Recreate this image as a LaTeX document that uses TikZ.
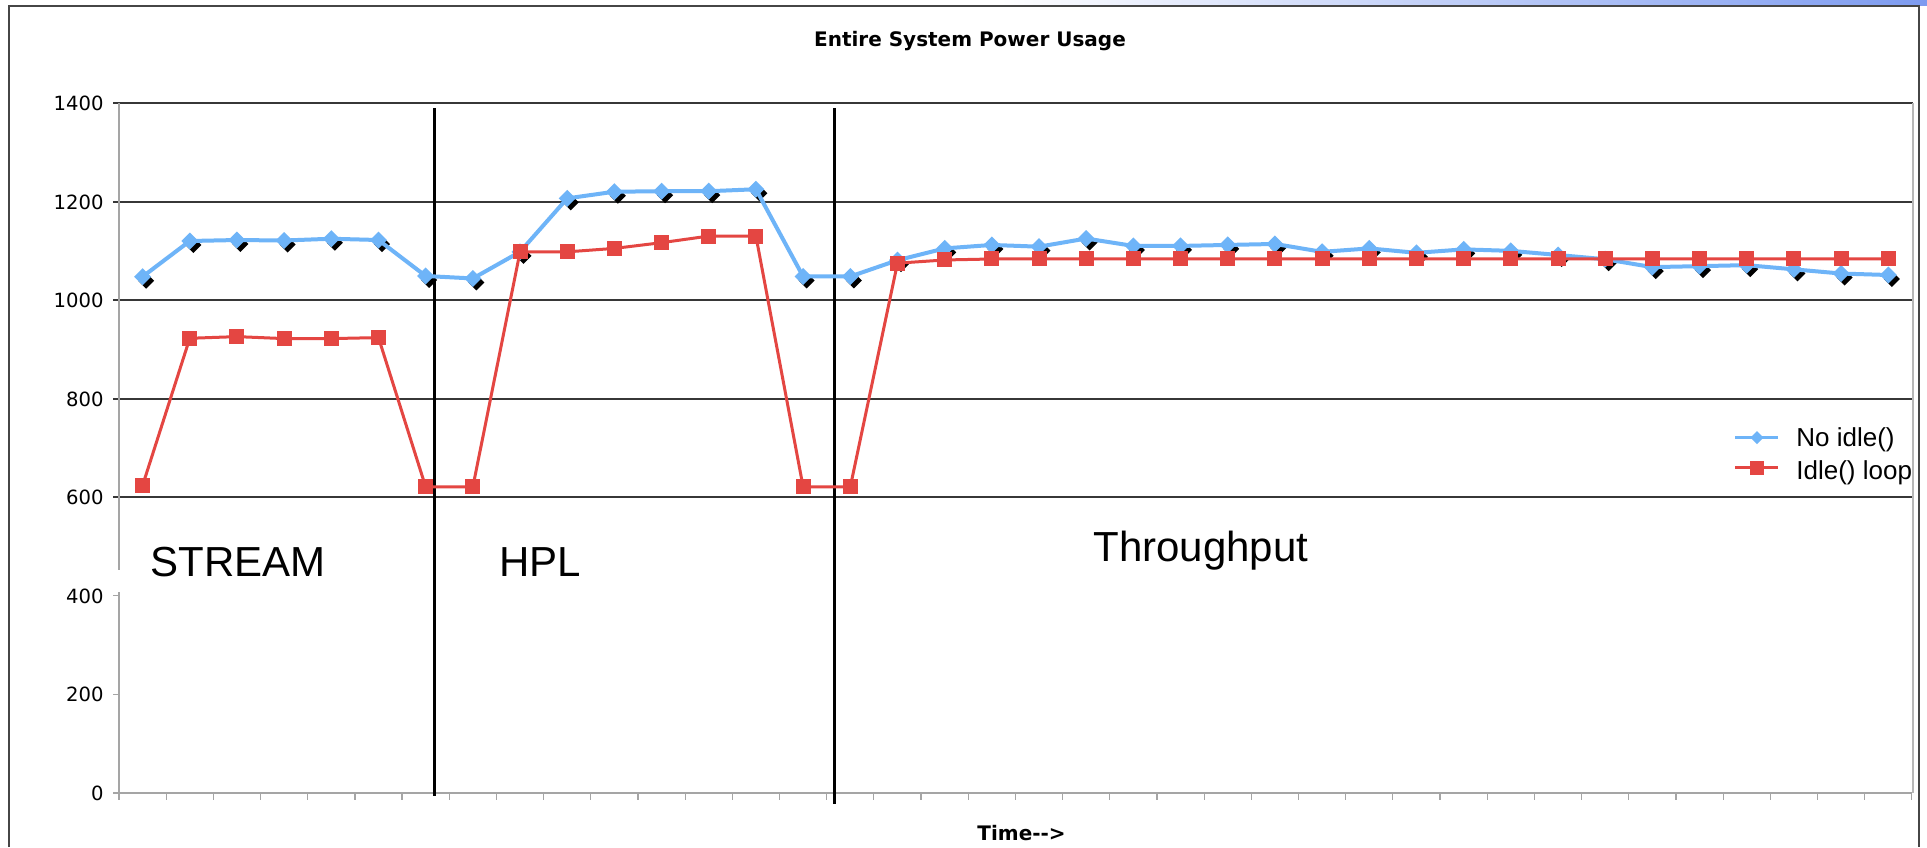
\documentclass[tikz,border=0pt]{standalone}
\usepackage{fontspec}
\newfontfamily\dvfont{DejaVu Sans}
\newfontfamily\arfont{Liberation Sans}
\definecolor{serblue}{RGB}{110,180,248}
\definecolor{serred}{RGB}{228,70,66}
\definecolor{gridc}{RGB}{55,55,55}
\definecolor{framec}{RGB}{70,70,70}
\definecolor{axisc}{RGB}{165,165,165}
\definecolor{topblue}{RGB}{125,155,240}
\tikzset{
  gridline/.style={gridc, line width=1pt},
  axisline/.style={axisc, line width=0.6pt},
  sepline/.style={black, line width=1.5pt},
  blueline/.style={serblue, line width=2pt, line join=round},
  redline/.style={serred, line width=1.5pt, line join=round},
  ylab/.style={font=\dvfont\fontsize{9.8}{11}\selectfont, anchor=base east, inner sep=0pt},
  boldlab/.style={font=\dvfont\bfseries\fontsize{10}{12}\selectfont, inner sep=0pt},
  phaselab/.style={font=\arfont\fontsize{21}{24}\selectfont, anchor=base west, inner sep=0pt},
  leglab/.style={font=\arfont\fontsize{13}{15}\selectfont, anchor=base west, inner sep=0pt},
}
\begin{document}
\begin{tikzpicture}[x=0.5pt,y=-0.5pt]
\useasboundingbox (0,0) rectangle (1927,847);
\fill[white] (0,0) rectangle (1927,847);
% top strip and outer frame
\shade[left color=white, right color=topblue] (1000,0) rectangle (1927,5);
\draw[framec, line width=1.2pt] (9,847) -- (9,6) -- (1919,6) -- (1919,847);
% title
\node[boldlab, anchor=base] (title) at (970,46.7) {Entire System Power Usage};
% gridlines and y labels
\foreach \v in {600,800,1000,1200,1400} {
  \draw[gridline] (113,{793-\v*0.492857}) -- (1913,{793-\v*0.492857});
}
\foreach \v in {0,200,400} {
  \draw[axisline] (113,{793-\v*0.492857}) -- (119,{793-\v*0.492857});
}
\foreach \v in {0,200,...,1400} {
  \node[ylab] (y\v) at (104,{793-\v*0.492857+7.5}) {\v};
}
% axes
\draw[axisline] (119,103) -- (119,570);
\draw[axisline] (119,592) -- (119,793);
\draw[axisc!80!white, line width=0.8pt] (1913,103) -- (1913,793);
\draw[axisline] (119,793) -- (1912,793);
\foreach \k in {0,...,38} {
  \draw[axisline] ({119+\k*47.18},793) -- ({119+\k*47.18},800);
}
% data
\foreach \v [count=\i from 0] in {1047.6,1120,1122,1121,1124.6,1122,1049,1044,1098,1206.5,1220,1221,1221,1225,1048,1048,1081,1105,1112,1108.5,1125,1110,1110,1112,1114,1098,1105,1096,1103,1100,1091.6,1083,1067,1069,1071,1062.5,1054,1051} {
  \coordinate (b\i) at ({119+(\i+0.5)*47.18},{793-\v*0.492857});
}
\foreach \v [count=\i from 0] in {624,922.6,926,922,922,924,621,621,1098,1098,1105,1116.6,1130,1130,621,621,1075,1081.5,1083.5,1083.5,1083.5,1083.5,1083.5,1083.5,1083.5,1083.5,1083.5,1083.5,1083.5,1083.5,1083.5,1083.5,1083.5,1083.5,1083.5,1083.5,1083.5,1083.5} {
  \coordinate (r\i) at ({119+(\i+0.5)*47.18},{793-\v*0.492857});
}
% separators
\coordinate (s1t) at (434,108); \coordinate (s1b) at (434,796);
\coordinate (s2t) at (834,108); \coordinate (s2b) at (834,804);
\draw[sepline] (s1t) -- (s1b);
\draw[sepline] (s2t) -- (s2b);
% blue series
\foreach \i in {0,...,37} {
  \fill[black] (b\i) ++(3.5,-4) -- ++(8,8) -- ++(-8,8) -- ++(-8,-8) -- cycle;
}
\draw[blueline] (b0) \foreach \i in {1,...,37} { -- (b\i) };
\foreach \i in {0,...,37} {
  \fill[serblue] (b\i) ++(0,-8.5) -- ++(8.5,8.5) -- ++(-8.5,8.5) -- ++(-8.5,-8.5) -- cycle;
}
% red series
\draw[redline] (r0) \foreach \i in {1,...,37} { -- (r\i) };
\foreach \i in {0,...,37} {
  \fill[serred] (r\i) ++(-7.5,-7.5) rectangle ++(15,15);
}
% phase labels
\fill[white] (115,570) rectangle (123,592);
\node[phaselab] (stream) at (150,576) {STREAM};
\node[phaselab] (hpl) at (499,576) {HPL};
\node[phaselab] (thr) at (1093,561) {Throughput};
% legend
\coordinate (lb1) at (1735,437.7); \coordinate (lb2) at (1778,437.7); \coordinate (lbm) at (1757,437.7);
\coordinate (lr1) at (1735,467.7); \coordinate (lr2) at (1778,467.7); \coordinate (lrm) at (1757,467.7);
\draw[serblue, line width=1.5pt] (lb1) -- (lb2);
\fill[serblue] (lbm) ++(0,-6.5) -- ++(6.5,6.5) -- ++(-6.5,6.5) -- ++(-6.5,-6.5) -- cycle;
\draw[serred, line width=1.5pt] (lr1) -- (lr2);
\fill[serred] (lrm) ++(-7,-7) rectangle ++(14,14);
\node[leglab] (l1) at (1796,446.7) {No idle()};
\node[leglab] (l2) at (1796,479) {Idle() loop};
% x label
\node[boldlab, anchor=base west] (xlab) at (977,840.7) {Time-->};
\end{tikzpicture}
\end{document}
